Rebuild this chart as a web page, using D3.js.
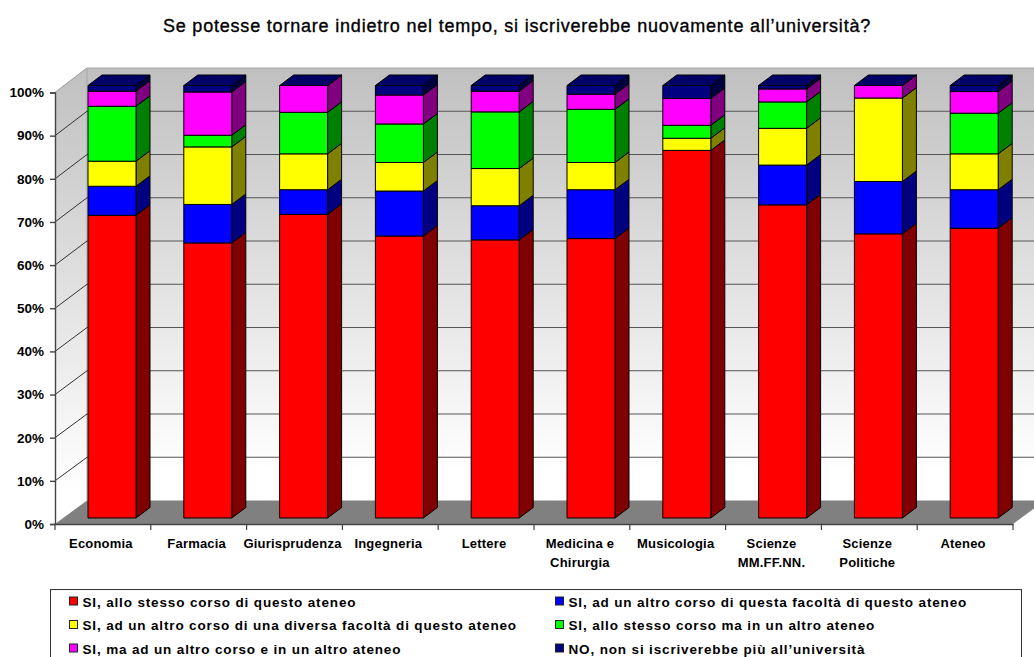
<!DOCTYPE html>
<html>
<head>
<meta charset="utf-8">
<script src="https://cdn.jsdelivr.net/npm/d3@7"></script>
<style>
  html, body { margin: 0; padding: 0; background: #fff; overflow: hidden; }
  svg { display: block; }
  text { font-family: "Liberation Sans", Arial, sans-serif; fill: #000; }
</style>
</head>
<body>
<svg id="chart" width="1034" height="657"></svg>
<script>
const chartTitle = "Se potesse tornare indietro nel tempo, si iscriverebbe nuovamente all\u2019università?";
const categories = ["Economia", "Farmacia", "Giurisprudenza", "Ingegneria", "Lettere", "Medicina e\nChirurgia", "Musicologia", "Scienze\nMM.FF.NN.", "Scienze\nPolitiche", "Ateneo"];
const seriesKeys = ["stesso", "facolta", "diversa", "altroAteneo", "altroCorso", "no"];
const seriesLabels = [
  "SI, allo stesso corso di questo ateneo",
  "SI, ad un altro corso di questa facoltà di questo ateneo",
  "SI, ad un altro corso di una diversa facoltà di questo ateneo",
  "SI, allo stesso corso ma in un altro ateneo",
  "SI, ma ad un altro corso e in un altro ateneo",
  "NO, non si iscriverebbe più all\u2019università"
];
const frontColors = ["#ff0000", "#0000ff", "#ffff00", "#00ff00", "#ff00ff", "#000080"];
const sideColors = ["#800000", "#000080", "#808000", "#008000", "#800080", "#000040"];

const stesso      = [70.0, 63.6, 70.2, 65.2, 64.3, 64.6, 85.0, 72.4, 65.7, 67.0];
const facolta     = [6.7, 8.9, 5.7, 10.4, 7.9, 11.3, 0, 9.2, 12.1, 8.9];
const diversa     = [5.8, 13.3, 8.3, 6.6, 8.6, 6.3, 2.8, 8.5, 19.3, 8.3];
const altroAteneo = [12.7, 2.7, 9.6, 8.9, 13.1, 12.3, 3.0, 6.1, 0, 9.4];
const altroCorso  = [3.5, 10.0, 6.2, 6.7, 4.8, 3.5, 6.2, 3.0, 2.9, 5.0];
const no          = [1.3, 1.5, 0, 2.2, 1.3, 2.0, 3.0, 0.8, 0, 1.4];
const yTicks = [0, 10, 20, 30, 40, 50, 60, 70, 80, 90, 100];

const svg = d3.select("#chart");
const defs = svg.append("defs");
const wallGrad = defs.append("linearGradient").attr("id", "wallShade")
  .attr("x1", 0).attr("y1", 0).attr("x2", 0).attr("y2", 1);
wallGrad.append("stop").attr("offset", "0%").attr("stop-color", "#c0c0c0");
wallGrad.append("stop").attr("offset", "93%").attr("stop-color", "#ffffff");

// Scales for the three depth planes of the box
const x = d3.scaleBand().domain(categories).range([55, 1013]);
const yFront = d3.scaleLinear().domain([0, 100]).range([524, 92.5]);
const yBack = d3.scaleLinear().domain([0, 100]).range([500.5, 68]);
const yBar = d3.scaleLinear().domain([0, 100]).range([518, 85.5]);
const backX = 87, frontX = 55, rightFront = 1013, rightBack = 1045;
const barInset = 33, barWidth = 48, barDx = 14, barDy = 10.5;
const poly = d3.line();

// Walls and floor
svg.append("path")
  .attr("d", poly([[backX, yBack(100)], [rightBack, yBack(100)], [rightBack, yBack(0)], [backX, yBack(0)]]) + "Z")
  .attr("fill", "url(#wallShade)");
svg.append("path")
  .attr("d", poly([[frontX, yFront(100)], [backX, yBack(100)], [backX, yBack(0)], [frontX, yFront(0)]]) + "Z")
  .attr("fill", "url(#wallShade)");
svg.append("path")
  .attr("d", poly([[frontX, yFront(0)], [backX, yBack(0)], [rightBack, yBack(0)], [rightFront, yFront(0)]]) + "Z")
  .attr("fill", "#808080");
svg.append("path")
  .attr("d", poly([[frontX, yFront(100)], [backX, yBack(100)], [rightBack, yBack(100)]]))
  .attr("fill", "none").attr("stroke", "#a8a8a8");
svg.append("line")
  .attr("x1", backX).attr("x2", backX).attr("y1", yBack(100)).attr("y2", yBack(0))
  .attr("stroke", "#a8a8a8");

// Gridlines across the back wall and down the side wall
const grid = svg.append("g");
grid.selectAll("line.back").data(yTicks.filter(t => t > 0 && t < 100)).join("line")
  .attr("class", "back")
  .attr("x1", backX).attr("x2", rightBack)
  .attr("y1", d => yBack(d)).attr("y2", d => yBack(d))
  .attr("stroke", "#555").attr("stroke-width", 1);
grid.selectAll("line.side").data(yTicks.filter(t => t > 0)).join("line")
  .attr("class", "side")
  .attr("x1", frontX).attr("x2", backX)
  .attr("y1", d => yFront(d)).attr("y2", d => yBack(d))
  .attr("stroke", d => d === 100 ? "#a8a8a8" : "#333").attr("stroke-width", 1);

// Stacked 3D columns
const rows = categories.map((c, i) => ({
  category: c, stesso: stesso[i], facolta: facolta[i], diversa: diversa[i],
  altroAteneo: altroAteneo[i], altroCorso: altroCorso[i], no: no[i]
}));
const layers = d3.stack().keys(seriesKeys).order(d3.stackOrderNone).offset(d3.stackOffsetNone)(rows);
const bars = svg.append("g").attr("stroke", "#000").attr("stroke-width", 1).attr("stroke-linejoin", "round");
categories.forEach((c, ci) => {
  const left = x(c) + barInset, right = left + barWidth;
  const g = bars.append("g");
  layers.forEach((layer, li) => {
    const [v0, v1] = layer[ci];
    const yb = yBar(v0), yt = yBar(v1);
    g.append("path")
      .attr("d", poly([[right, yb], [right + barDx, yb - barDy], [right + barDx, yt - barDy], [right, yt]]) + "Z")
      .attr("fill", sideColors[li]);
    g.append("rect")
      .attr("x", left).attr("y", yt).attr("width", barWidth).attr("height", yb - yt)
      .attr("fill", frontColors[li]);
  });
  const topValue = layers[layers.length - 1][ci][1];
  const yt = yBar(topValue);
  g.append("path")
    .attr("d", poly([[left, yt], [left + barDx, yt - barDy], [right + barDx, yt - barDy], [right, yt]]) + "Z")
    .attr("fill", "#000066");
});

// Axes on the front plane
const yAxis = d3.axisLeft(yFront).tickValues(yTicks).tickFormat(d => d + "%").tickSize(5).tickPadding(6);
const yG = svg.append("g").attr("transform", `translate(${frontX},0)`).call(yAxis);
yG.selectAll("text").style("font-size", "13.5px").style("font-weight", "bold");
yG.selectAll("path,line").attr("stroke", "#444").attr("stroke-width", 1.4);

const xAxis = d3.axisBottom(x).tickSizeOuter(0).tickSize(0).tickFormat("");
const xG = svg.append("g").attr("transform", `translate(0,${yFront(0)})`).call(xAxis);
xG.select("path").attr("stroke", "#444").attr("stroke-width", 1.4);
xG.selectAll(".tick").remove();
const tickEdges = categories.map(c => x(c)).concat([rightFront]);
xG.selectAll("line.edge").data(tickEdges).join("line")
  .attr("class", "edge").attr("x1", d => d).attr("x2", d => d).attr("y1", 0).attr("y2", 6)
  .attr("stroke", "#444").attr("stroke-width", 1.2);
const xLabels = xG.selectAll("text.cat").data(categories).join("text")
  .attr("class", "cat")
  .attr("text-anchor", "middle")
  .style("font-size", "13px").style("font-weight", "bold").style("letter-spacing", "0.2px");
xLabels.each(function (c) {
  const t = d3.select(this);
  c.split("\n").forEach((part, i) => {
    t.append("tspan")
      .attr("x", x(c) + x.bandwidth() / 2 - 2)
      .attr("y", 24 + i * 19)
      .text(part);
  });
});

// Title
svg.append("text")
  .attr("x", 517).attr("y", 32).attr("text-anchor", "middle")
  .style("font-size", "18px").style("font-weight", "normal").style("letter-spacing", "0.8px")
  .style("stroke", "#000").style("stroke-width", "0.35px")
  .text(chartTitle);

// Legend
svg.append("rect")
  .attr("x", 50.5).attr("y", 589.5).attr("width", 971).attr("height", 80)
  .attr("fill", "#fff").attr("stroke", "#333");
const legendCols = [69.5, 555.5], legendRows = [601, 624.5, 648];
const legend = svg.append("g").selectAll("g").data(seriesLabels).join("g")
  .attr("transform", (d, i) => `translate(${legendCols[i % 2]},${legendRows[Math.floor(i / 2)]})`);
legend.append("rect")
  .attr("x", 0).attr("y", -4).attr("width", 8).attr("height", 8)
  .attr("fill", (d, i) => frontColors[i]).attr("stroke", "#222");
legend.append("text")
  .attr("x", 13).attr("y", 5.5)
  .style("font-size", "13.5px").style("font-weight", "bold").style("letter-spacing", "0.85px")
  .text(d => d);
</script>
</body>
</html>
